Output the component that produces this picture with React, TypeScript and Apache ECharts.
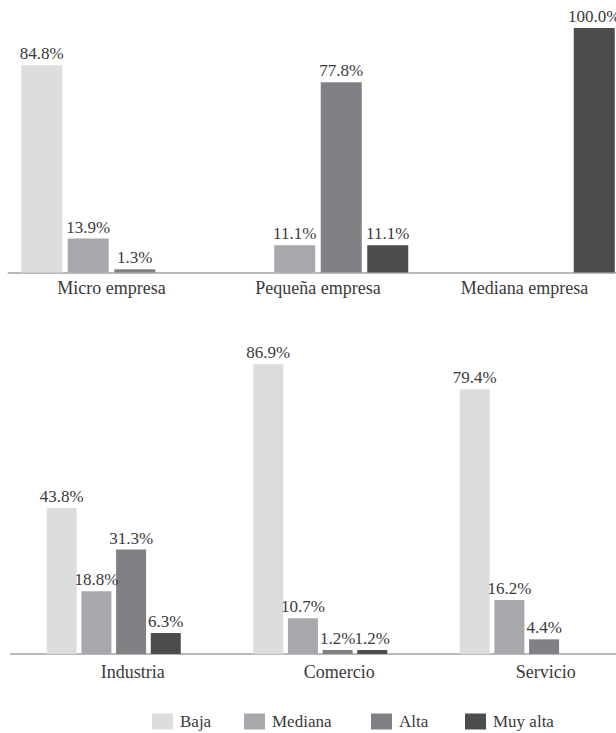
import React, { useEffect, useRef } from "react";
import * as echarts from "echarts";

// Nivel por tamaño de empresa y por sector (porcentajes)
const levels = ["Baja", "Mediana", "Alta", "Muy alta"];
const levelColors = ["#dcdddf", "#a7a8ab", "#808185", "#4b4c4e"];

const sizeCategories = ["Micro empresa", "Pequeña empresa", "Mediana empresa"];
const sizeBaja = [84.8, null, null];
const sizeMediana = [13.9, 11.1, null];
const sizeAlta = [1.3, 77.8, null];
const sizeMuyAlta = [null, 11.1, 100.0];

const sectorCategories = ["Industria", "Comercio", "Servicio"];
const sectorBaja = [43.8, 86.9, 79.4];
const sectorMediana = [18.8, 10.7, 16.2];
const sectorAlta = [31.3, 1.2, 4.4];
const sectorMuyAlta = [6.3, 1.2, null];

const FONT = "Liberation Serif";
const TEXT = "#3a3a3a";

export default function App() {
  const ref = useRef<HTMLDivElement>(null);

  useEffect(() => {
    if (!ref.current) return;
    const chart = echarts.init(ref.current, undefined, { renderer: "svg" });

    const sizeData = [sizeBaja, sizeMediana, sizeAlta, sizeMuyAlta];
    const sectorData = [sectorBaja, sectorMediana, sectorAlta, sectorMuyAlta];

    const valueLabel = {
      show: true,
      position: "top",
      distance: 3,
      color: TEXT,
      fontFamily: FONT,
      fontSize: 17,
      formatter: (p: any) => (p.value == null ? "" : Number(p.value).toFixed(1) + "%"),
    };

    const series: any[] = [];
    levels.forEach((name, i) => {
      series.push({
        name, type: "bar", xAxisIndex: 0, yAxisIndex: 0, barWidth: 41, barGap: "13.4%",
        itemStyle: { color: levelColors[i] }, label: valueLabel, data: sizeData[i],
      });
    });
    levels.forEach((name, i) => {
      series.push({
        name, type: "bar", xAxisIndex: 1, yAxisIndex: 1, barWidth: 30, barGap: "15.6%",
        itemStyle: { color: levelColors[i] }, label: valueLabel, data: sectorData[i],
      });
    });

    const legendLefts = [152, 244, 371, 465];

    chart.setOption({
      animation: false,
      textStyle: { fontFamily: FONT },
      grid: [
        { left: 8.25, width: 619.5, top: 28, height: 244.5 },
        { left: 10.5, width: 619.5, top: 320.5, height: 333.5 },
      ],
      xAxis: [
        {
          type: "category", gridIndex: 0, data: sizeCategories,
          axisLine: { lineStyle: { color: "#a3a3a3", width: 1.5 } },
          axisTick: { show: false },
          axisLabel: { color: TEXT, fontFamily: FONT, fontSize: 18, margin: 6 },
        },
        {
          type: "category", gridIndex: 1, data: sectorCategories,
          axisLine: { lineStyle: { color: "#a3a3a3", width: 1.5 } },
          axisTick: { show: false },
          axisLabel: { color: TEXT, fontFamily: FONT, fontSize: 18, margin: 9, padding: [0, 0, 0, 38] },
        },
      ],
      yAxis: [
        { type: "value", gridIndex: 0, min: 0, max: 100, show: false },
        { type: "value", gridIndex: 1, min: 0, max: 100, show: false },
      ],
      legend: levels.map((name, i) => ({
        data: [name], left: legendLefts[i], top: 713, padding: 0, itemWidth: 21, itemHeight: 16,
        icon: "rect", selectedMode: false,
        textStyle: { color: TEXT, fontFamily: FONT, fontSize: 17, padding: [0, 0, 0, 2] },
      })),
      series,
    });

    return () => chart.dispose();
  }, []);

  // The plot area runs a little past the right edge of the page, so the
  // chart canvas is wider than the visible frame and clipped by it.
  return (
    <div style={{ position: "fixed", left: 0, top: 0, width: 616, height: 733, overflow: "hidden", background: "#fff" }}>
      <div ref={ref} style={{ width: 640, height: 733 }} />
    </div>
  );
}
